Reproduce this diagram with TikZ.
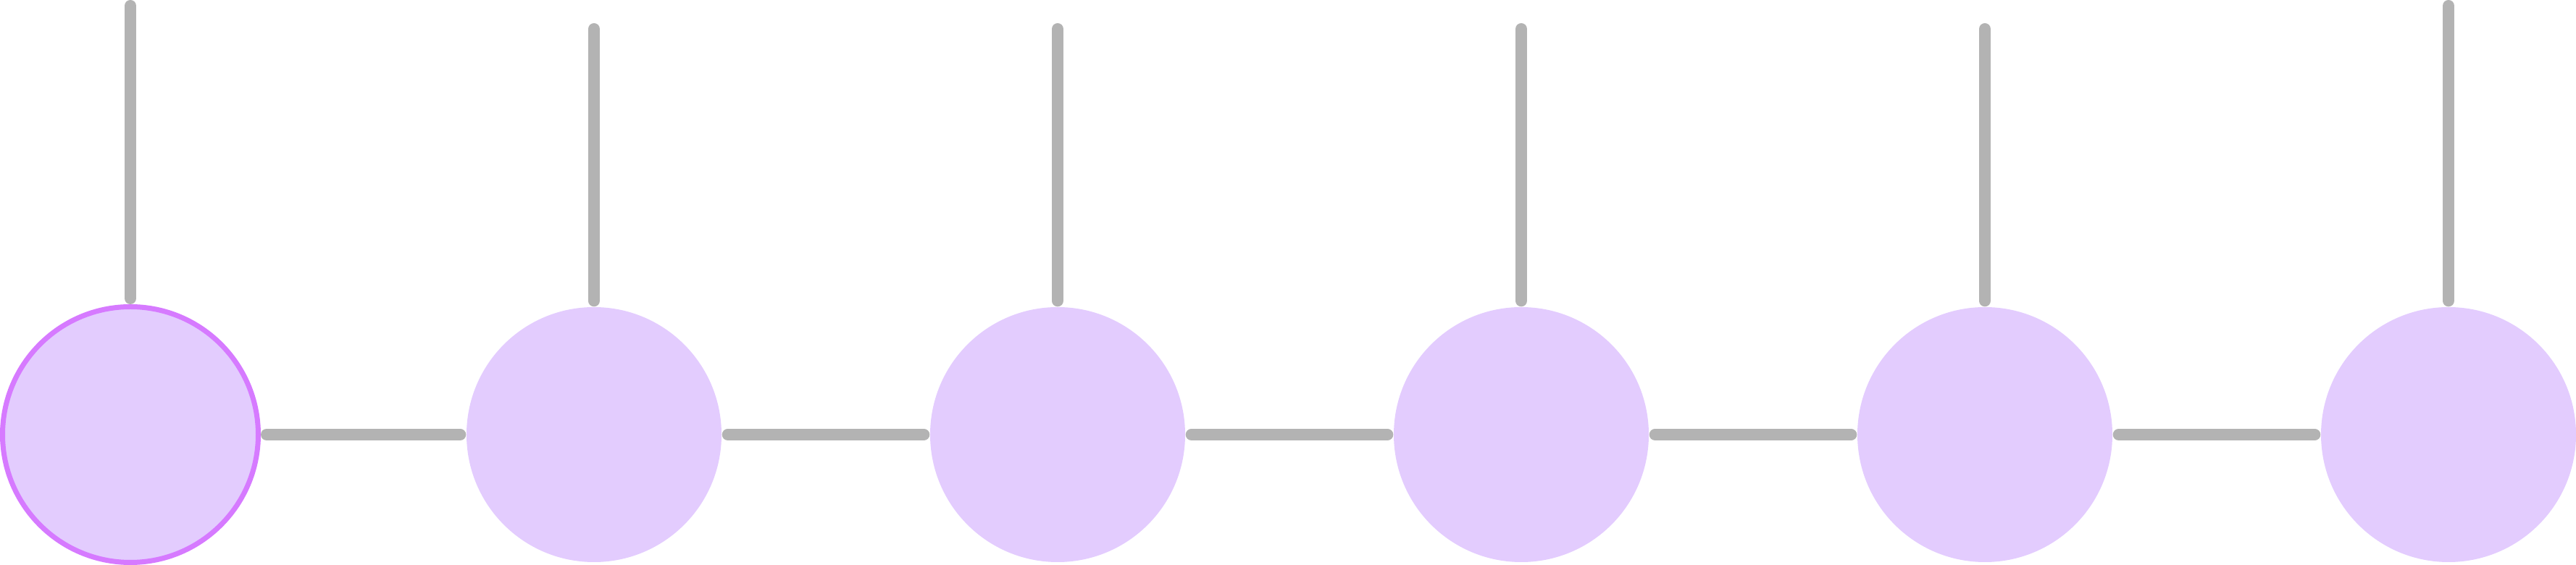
\documentclass[tikz,border=0pt]{standalone}
\usetikzlibrary{calc}
\definecolor{legray}{RGB}{179,179,179}
\definecolor{sitefill}{RGB}{227,204,254}
\definecolor{siteedge}{RGB}{214,122,255}
\tikzset{
	site/.style={
		circle,
		fill=sitefill,
		inner sep=0pt,
		minimum size=3.52cm,
	},
	boundary/.style={
		draw=siteedge,
		line width=0.07cm,
		minimum size=3.53cm,
	},
	bond/.style={
		draw=legray,
		line width=0.16cm,
		line cap=round,
		shorten <=0.08cm,
		shorten >=0.08cm,
	},
	phys/.style={
		draw=legray,
		line width=0.16cm,
		line cap=round,
		shorten >=0.08cm,
	},
}

\begin{document}
\begin{tikzpicture}
		\useasboundingbox (0,0) rectangle (35.56,7.80);

		\node[site, boundary] 	(s1) at (1.80,1.80) {};
		\node[site] 			(s2) at (8.20,1.80) {};
		\node[site] 			(s3) at (14.60,1.80) {};
		\node[site] 			(s4) at (21.00,1.80) {};
		\node[site] 			(s5) at (27.40,1.80) {};
		\node[site] 			(s6) at (33.80,1.80) {};

%*********

		\coordinate 			(p1) at (1.80,7.72);
		\coordinate 			(p2) at (8.20,7.40);
		\coordinate 			(p3) at (14.60,7.40);
		\coordinate 			(p4) at (21.00,7.40);
		\coordinate 			(p5) at (27.40,7.40);
		\coordinate 			(p6) at (33.80,7.72);

		\draw[phys] 			(p1) -- (s1);
		\draw[phys] 			(p2) -- (s2);
		\draw[phys] 			(p3) -- (s3);
		\draw[phys] 			(p4) -- (s4);
		\draw[phys] 			(p5) -- (s5);
		\draw[phys] 			(p6) -- (s6);

%*********

		\draw[bond] 			(s1) -- (s2);
		\draw[bond] 			(s2) -- (s3);
		\draw[bond] 			(s3) -- (s4);
		\draw[bond] 			(s4) -- (s5);
		\draw[bond] 			(s5) -- (s6);

	\end{tikzpicture}
\end{document}
